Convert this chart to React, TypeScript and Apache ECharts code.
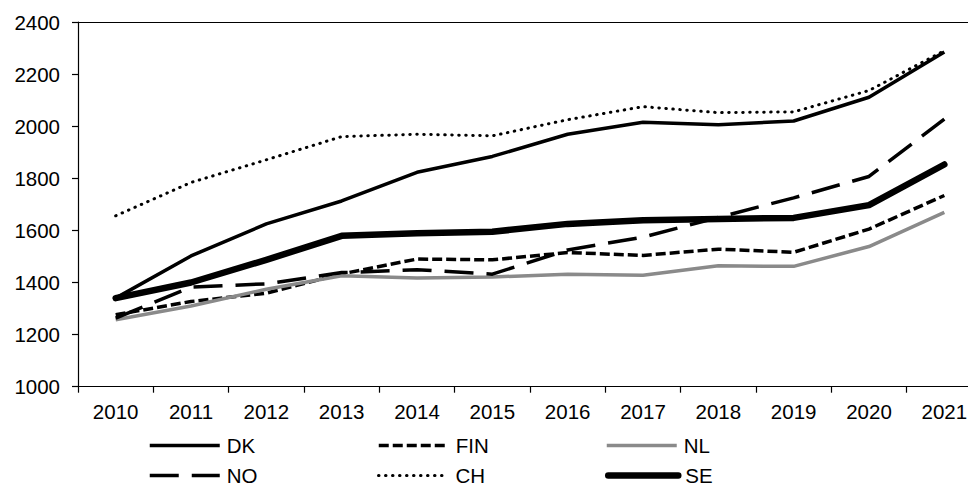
import React, { useEffect, useRef } from "react";
import * as echarts from "echarts";

const years = ["2010", "2011", "2012", "2013", "2014", "2015", "2016", "2017", "2018", "2019", "2020", "2021"];
const dk = [1340, 1502, 1625, 1713, 1823, 1884, 1969, 2015, 2006, 2020, 2111, 2285];
const fin = [1276, 1327, 1359, 1433, 1490, 1487, 1515, 1504, 1528, 1516, 1605, 1734];
const nl = [1257, 1310, 1374, 1426, 1417, 1421, 1432, 1428, 1464, 1462, 1538, 1669];
const no = [1263, 1382, 1395, 1438, 1449, 1432, 1525, 1574, 1650, 1725, 1807, 2027];
const ch = [1656, 1784, 1871, 1960, 1969, 1963, 2025, 2075, 2052, 2055, 2137, 2290];
const se = [1340, 1400, 1487, 1579, 1589, 1595, 1625, 1639, 1644, 1648, 1697, 1853];

const FONT = "'Liberation Sans', Arial, sans-serif";

export default function App() {
  const ref = useRef<HTMLDivElement>(null);
  useEffect(() => {
    if (!ref.current) return;
    const chart = echarts.init(ref.current, null, { renderer: "svg" });
    const styles: Record<string, any> = {
      DK: { color: "#000", width: 3.5, type: "solid", cap: "butt" },
      FIN: { color: "#000", width: 3.5, type: [10, 4], cap: "butt" },
      NL: { color: "#8a8a8a", width: 3.5, type: "solid", cap: "butt" },
      NO: { color: "#000", width: 3.5, type: [29, 13], cap: "butt" },
      CH: { color: "#000", width: 3, type: [0.5, 6.5], cap: "round" },
      SE: { color: "#000", width: 6.5, type: "solid", cap: "round" },
    };
    const mk = (name: string, data: number[]) => ({
      name,
      type: "line",
      data,
      symbol: "none",
      showSymbol: false,
      lineStyle: { ...styles[name], join: "round" },
      itemStyle: { color: styles[name].color },
      emphasis: { disabled: true },
    });
    const lg = (name: string, left: number, top: number) => ({
      orient: "horizontal",
      left,
      top,
      itemWidth: 70,
      itemHeight: 14,
      padding: 0,
      selectedMode: false,
      data: [name],
      itemStyle: { opacity: 0, color: "transparent", borderColor: "transparent", borderWidth: 0 },
      lineStyle: { ...styles[name] },
      textStyle: { fontSize: 20.5, fontFamily: FONT, color: "#000", padding: [0, 0, 0, 2] },
    });
    chart.setOption({
      animation: false,
      textStyle: { fontFamily: FONT },
      grid: { left: 78, right: 8, top: 22, bottom: 97.3 },
      legend: [
        lg("DK", 148, 435),
        lg("NO", 148, 465),
        lg("FIN", 377, 435),
        lg("CH", 377, 465),
        lg("NL", 605, 435),
        lg("SE", 605, 465),
      ],
      xAxis: [
        {
          type: "category",
          data: years,
          boundaryGap: true,
          axisLine: { lineStyle: { color: "#000", width: 1.2 } },
          axisTick: { show: true, length: 6, inside: false, lineStyle: { color: "#000", width: 1.2 } },
          axisLabel: { color: "#000", fontSize: 20.5, fontFamily: FONT, margin: 14 },
          splitLine: { show: false },
        },
        {
          type: "category",
          data: years,
          position: "top",
          axisLine: { show: true, lineStyle: { color: "#000", width: 1.2 } },
          axisTick: { show: false },
          axisLabel: { show: false },
          splitLine: { show: false },
        },
      ],
      yAxis: {
        type: "value",
        min: 1000,
        max: 2400,
        interval: 200,
        axisLine: { show: true, lineStyle: { color: "#000", width: 1.2 } },
        axisTick: { show: true, length: 6, lineStyle: { color: "#000", width: 1.2 } },
        axisLabel: { color: "#000", fontSize: 20.5, fontFamily: FONT, margin: 18, formatter: (v: number) => String(v) },
        splitLine: { show: false },
      },
      series: [mk("DK", dk), mk("FIN", fin), mk("NL", nl), mk("NO", no), mk("CH", ch), mk("SE", se)],
    });
    return () => chart.dispose();
  }, []);
  return (
    <div
      ref={ref}
      style={{ position: "fixed", left: 0, top: 0, width: 990, height: 484, background: "#fff" }}
    />
  );
}
